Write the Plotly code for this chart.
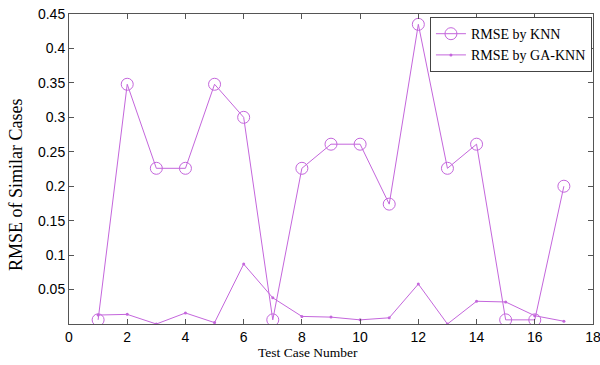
import plotly.graph_objects as go

cases = list(range(1, 18))
rmse_knn = [0.006, 0.348, 0.226, 0.226, 0.348, 0.300, 0.006, 0.226, 0.261, 0.261,
            0.174, 0.435, 0.226, 0.261, 0.006, 0.006, 0.200]
rmse_ga_knn = [0.013, 0.014, 0.000, 0.016, 0.002, 0.087, 0.038, 0.011, 0.010, 0.006,
               0.009, 0.058, 0.000, 0.033, 0.032, 0.012, 0.004]
x_ticks = [0, 2, 4, 6, 8, 10, 12, 14, 16, 18]
y_ticks = [0.05, 0.1, 0.15, 0.2, 0.25, 0.3, 0.35, 0.4, 0.45]
y_tick_labels = ["0.05", "0.1", "0.15", "0.2", "0.25", "0.3", "0.35", "0.4", "0.45"]

color = "#c466dc"
serif = "Liberation Serif, Times New Roman, serif"

fig = go.Figure()
fig.add_trace(go.Scatter(
    x=cases, y=rmse_knn, mode="lines+markers", name="RMSE by KNN",
    line=dict(color=color, width=1),
    marker=dict(symbol="circle-open", size=12, color=color, line=dict(width=1)),
))
fig.add_trace(go.Scatter(
    x=cases, y=rmse_ga_knn, mode="lines+markers", name="RMSE by GA-KNN",
    line=dict(color=color, width=1),
    marker=dict(symbol="circle", size=3, color=color),
))

axis_common = dict(
    showgrid=False, zeroline=False, showline=True, linecolor="#555555", linewidth=1,
    mirror="ticks", ticks="inside", ticklen=5, tickcolor="#555555",
    tickfont=dict(family="Liberation Sans, Arial", size=14, color="black"),
    automargin=False, ticklabeloverflow="allow",
)

fig.update_layout(
    width=600, height=365,
    margin=dict(l=69, r=7, t=14, b=41),
    paper_bgcolor="white", plot_bgcolor="white",
    showlegend=True,
    legend=dict(
        x=0.998, y=0.99, xanchor="right", yanchor="top",
        bordercolor="#444444", borderwidth=1, bgcolor="white",
        font=dict(family=serif, size=14, color="black"),
        tracegroupgap=0, itemwidth=30,
    ),
    xaxis=dict(range=[0, 18], tickvals=x_ticks, **axis_common),
    yaxis=dict(range=[0, 0.45], tickvals=y_ticks, ticktext=y_tick_labels, **axis_common),
    annotations=[
        dict(text="Test Case Number", xref="paper", yref="paper",
             x=(308 - 69) / 524, y=-(352 - 324) / 310, xanchor="center", yanchor="middle",
             showarrow=False, font=dict(family=serif, size=13.5, color="black")),
        dict(text="RMSE of Similar Cases", xref="paper", yref="paper", textangle=-90,
             x=-(69 - 16) / 524, y=(324 - 185) / 310, xanchor="center", yanchor="middle",
             showarrow=False, font=dict(family=serif, size=18, color="black")),
    ],
)

# Remove the browser's default 8px body margin so the 600x365 figure fills the window.
fig.write_html(
    "out.html",
    config={"displayModeBar": False},
    post_script="document.body.style.margin='0';document.body.style.overflow='hidden';",
)
